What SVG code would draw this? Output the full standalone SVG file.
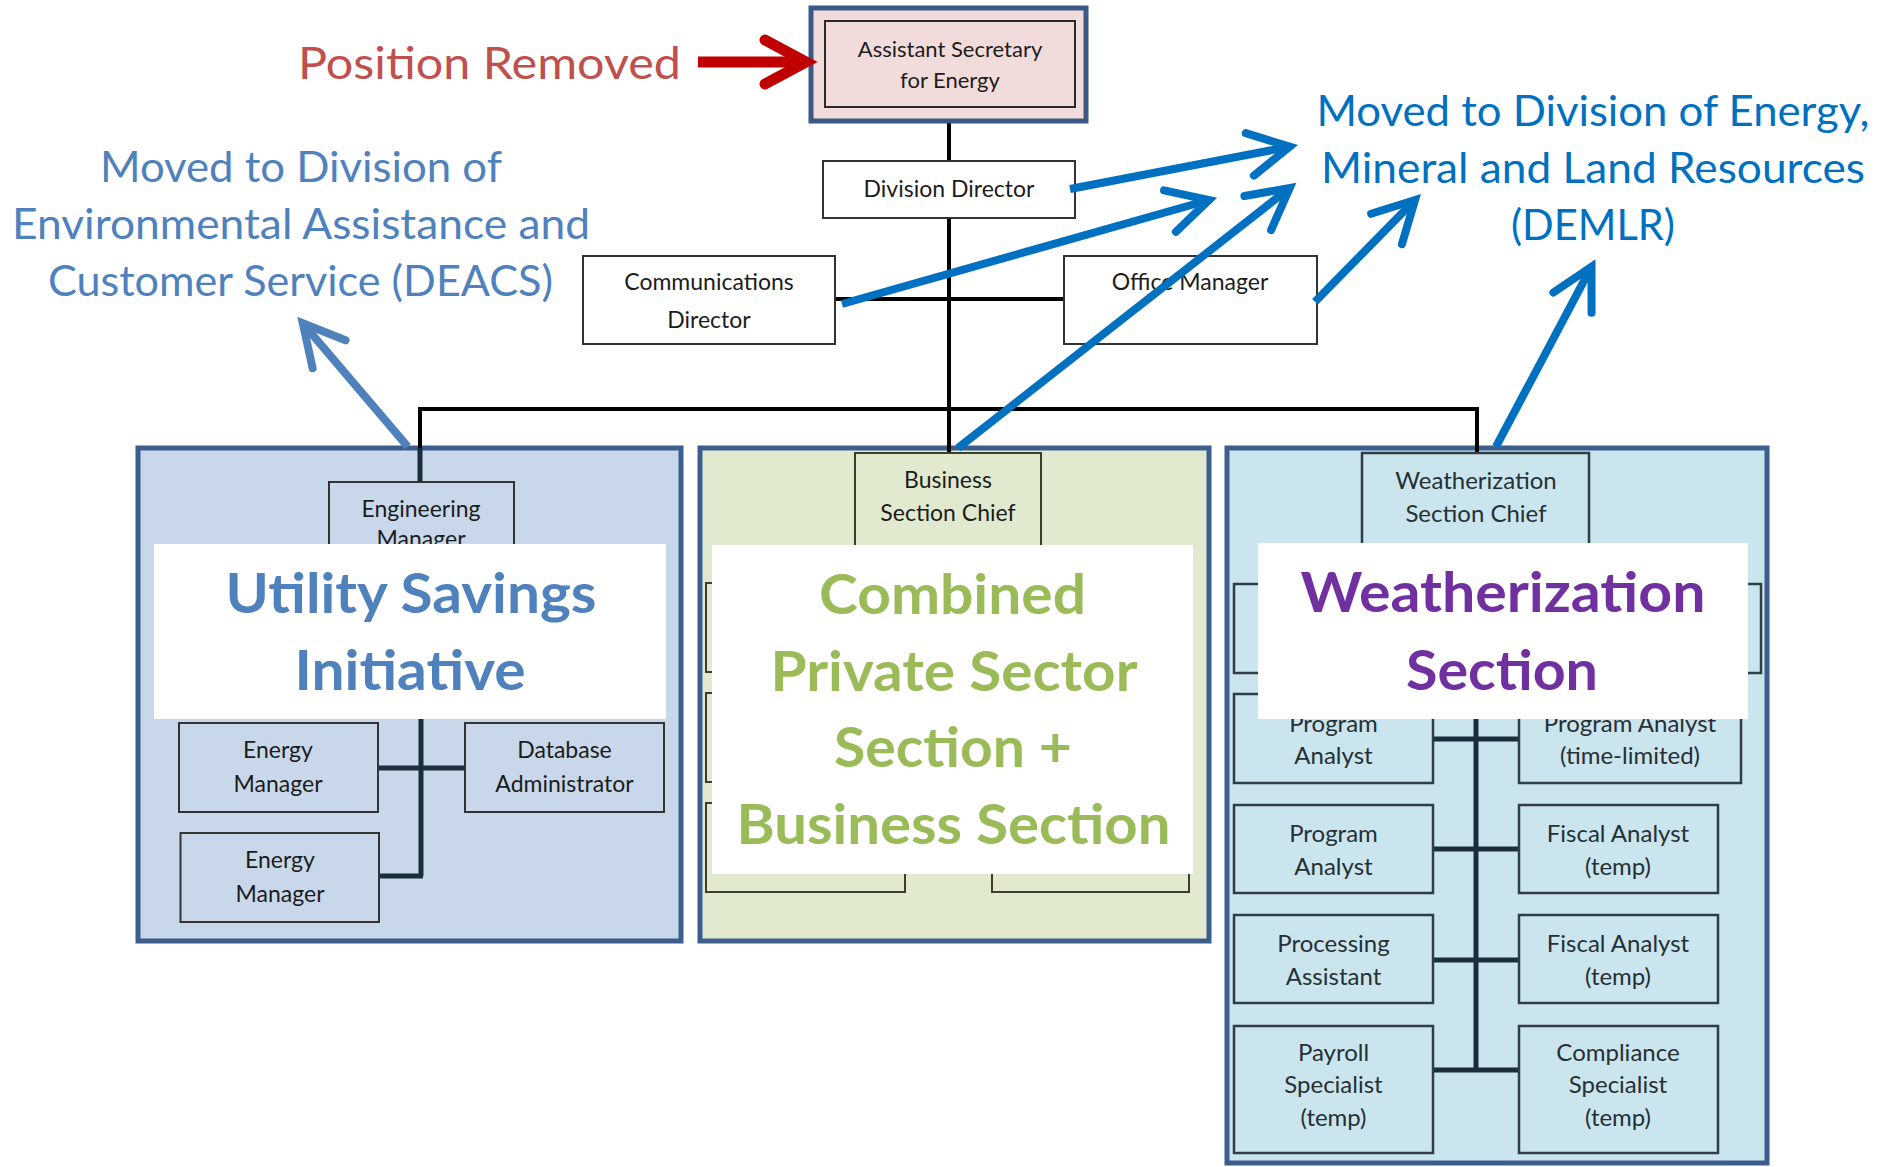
<svg xmlns="http://www.w3.org/2000/svg" width="1877" height="1167" viewBox="0 0 1877 1167">
<defs>
<style>
.t{font-family:Lato,'Open Sans',sans-serif;fill:#1c1c1c;text-anchor:middle}
.s23{font-size:23px}
.s24{font-size:24px;fill:#263034}
.box{fill:#fff;stroke:#333;stroke-width:2}
.bl{fill:#C8D8EA;stroke:#333;stroke-width:2}
.bg{fill:#E1EACF;stroke:#3a3f30;stroke-width:2}
.bt{fill:#CBE5EE;stroke:#2E3E44;stroke-width:2.5}
.panel{stroke:#3D5D8C;stroke-width:5}
.lab{fill:#fff}
.big{font-family:Lato,'Open Sans',sans-serif;font-weight:700;font-size:56px;text-anchor:middle}
.note{font-family:Lato,'Open Sans',sans-serif;font-size:42px;text-anchor:middle}
.blk{stroke:#000;stroke-width:4;fill:none}
.drk{stroke:#1B2D3B;stroke-width:5;fill:none}
.arB{stroke:#0070C0;stroke-width:8;fill:none;marker-end:url(#ahB)}
.arS{stroke:#4F81BD;stroke-width:8;fill:none;marker-end:url(#ahS)}
.arR{stroke:#C00000;stroke-width:11;fill:none;marker-end:url(#ahR)}
</style>
<marker id="ahB" markerUnits="userSpaceOnUse" viewBox="-60 -35 70 70" markerWidth="70" markerHeight="70" refX="0" refY="0" orient="auto" overflow="visible">
<path d="M-40.6,-21.6 L0,0 L-40.6,21.6" fill="none" stroke="#0070C0" stroke-width="8" stroke-linecap="round"/>
</marker>
<marker id="ahS" markerUnits="userSpaceOnUse" viewBox="-60 -35 70 70" markerWidth="70" markerHeight="70" refX="0" refY="0" orient="auto" overflow="visible">
<path d="M-40.6,-21.6 L0,0 L-40.6,21.6" fill="none" stroke="#4F81BD" stroke-width="8" stroke-linecap="round"/>
</marker>
<marker id="ahR" markerUnits="userSpaceOnUse" viewBox="-60 -35 70 70" markerWidth="70" markerHeight="70" refX="0" refY="0" orient="auto" overflow="visible">
<path d="M-41,-22 L0,0 L-41,22" fill="none" stroke="#C00000" stroke-width="11" stroke-linecap="round"/>
</marker>
</defs>
<rect width="1877" height="1167" fill="#fff"/>

<!-- panels -->
<g id="panel-utility"><rect class="panel" x="138" y="448" width="543" height="493" fill="#C8D8EA"/></g>
<g id="panel-combined"><rect class="panel" x="700" y="448" width="509" height="493" fill="#E1EACF"/></g>
<g id="panel-weatherization"><rect class="panel" x="1227" y="448" width="540" height="715" fill="#CBE5EE"/></g>

<!-- connectors -->
<g id="connectors">
<path class="blk" d="M949,122 V453 M835,299 H1064 M420,409 H1477 M420,407 V448 M1477,407 V453"/>
<path class="drk" d="M420,448 V482 M421,700 V876 M377,768 H465 M379,876 H423"/>
<path class="drk" d="M1476,700 V1070 M1433,739 H1519 M1433,849 H1519 M1433,960 H1519 M1433,1070 H1519"/>
</g>

<!-- top nodes -->
<g id="node-ase">
<rect x="811" y="8" width="275" height="113" fill="#F2DCDB" stroke="#3B5886" stroke-width="5"/>
<rect x="825" y="21" width="250" height="86" fill="#F2DCDB" stroke="#2a2a2a" stroke-width="2"/>
<text class="t" x="950" y="57" font-size="22">Assistant Secretary</text>
<text class="t" x="950" y="88" font-size="22">for Energy</text>
</g>
<g id="node-dd">
<rect class="box" x="823" y="161" width="252" height="57"/>
<text class="t s23" x="949" y="197">Division Director</text>
</g>
<g id="node-comm">
<rect class="box" x="583" y="256" width="252" height="88"/>
<text class="t s23" x="709" y="290">Communications</text>
<text class="t s23" x="709" y="328">Director</text>
</g>
<g id="node-office">
<rect class="box" x="1064" y="256" width="253" height="88"/>
<text class="t s23" x="1190" y="290">Office Manager</text>
</g>

<!-- utility panel nodes -->
<g id="node-eng">
<rect class="bl" x="329" y="482" width="185" height="90"/>
<text class="t s23" x="421" y="517">Engineering</text>
<text class="t s23" x="421" y="547">Manager</text>
</g>
<g id="node-em1">
<rect class="bl" x="179" y="723" width="199" height="89"/>
<text class="t s23" x="278" y="758">Energy</text>
<text class="t s23" x="278" y="792">Manager</text>
</g>
<g id="node-dba">
<rect class="bl" x="465" y="723" width="199" height="89"/>
<text class="t s23" x="564.5" y="758">Database</text>
<text class="t s23" x="564.5" y="792">Administrator</text>
</g>
<g id="node-em2">
<rect class="bl" x="180.5" y="833" width="198.5" height="89"/>
<text class="t s23" x="280" y="868">Energy</text>
<text class="t s23" x="280" y="902">Manager</text>
</g>

<!-- combined panel nodes -->
<g id="node-bsc">
<rect class="bg" x="855" y="453" width="186" height="100"/>
<text class="t s23" x="948" y="488">Business</text>
<text class="t s23" x="948" y="521">Section Chief</text>
</g>
<g id="node-c1"><rect class="bg" x="706" y="583" width="199" height="89"/></g>
<g id="node-c2"><rect class="bg" x="706" y="693" width="199" height="89"/></g>
<g id="node-c3"><rect class="bg" x="706" y="803" width="199" height="89"/></g>
<g id="node-c4"><rect class="bg" x="992" y="803" width="197" height="89"/></g>

<!-- weatherization panel nodes -->
<g id="node-wsc">
<rect class="bt" x="1362" y="453" width="227" height="100"/>
<text class="t s24" x="1476" y="489">Weatherization</text>
<text class="t s24" x="1476" y="522">Section Chief</text>
</g>
<g id="node-w1"><rect class="bt" x="1234" y="584" width="199" height="89"/></g>
<g id="node-w2"><rect class="bt" x="1519" y="584" width="242" height="89"/></g>
<g id="node-w3">
<rect class="bt" x="1234" y="694" width="199" height="89"/>
<text class="t s24" x="1333.5" y="732">Program</text>
<text class="t s24" x="1333.5" y="764">Analyst</text>
</g>
<g id="node-w4">
<rect class="bt" x="1519" y="694" width="222" height="89"/>
<text class="t s24" x="1630" y="732">Program Analyst</text>
<text class="t s24" x="1630" y="764">(time-limited)</text>
</g>
<g id="node-w5">
<rect class="bt" x="1234" y="805" width="199" height="88"/>
<text class="t s24" x="1333.5" y="842">Program</text>
<text class="t s24" x="1333.5" y="875">Analyst</text>
</g>
<g id="node-w6">
<rect class="bt" x="1519" y="805" width="199" height="88"/>
<text class="t s24" x="1618" y="842">Fiscal Analyst</text>
<text class="t s24" x="1618" y="875">(temp)</text>
</g>
<g id="node-w7">
<rect class="bt" x="1234" y="915" width="199" height="88"/>
<text class="t s24" x="1333.5" y="952">Processing</text>
<text class="t s24" x="1333.5" y="985">Assistant</text>
</g>
<g id="node-w8">
<rect class="bt" x="1519" y="915" width="199" height="88"/>
<text class="t s24" x="1618" y="952">Fiscal Analyst</text>
<text class="t s24" x="1618" y="985">(temp)</text>
</g>
<g id="node-w9">
<rect class="bt" x="1234" y="1026" width="199" height="127"/>
<text class="t s24" x="1333.5" y="1061">Payroll</text>
<text class="t s24" x="1333.5" y="1093">Specialist</text>
<text class="t s24" x="1333.5" y="1126">(temp)</text>
</g>
<g id="node-w10">
<rect class="bt" x="1519" y="1026" width="199" height="127"/>
<text class="t s24" x="1618" y="1061">Compliance</text>
<text class="t s24" x="1618" y="1093">Specialist</text>
<text class="t s24" x="1618" y="1126">(temp)</text>
</g>

<!-- section labels -->
<g id="label-utility">
<rect class="lab" x="154" y="544" width="512" height="175"/>
<text class="big" x="411" y="613" fill="#4F81BD" textLength="371" lengthAdjust="spacingAndGlyphs">Utility Savings</text>
<text class="big" x="410" y="690" fill="#4F81BD" textLength="231" lengthAdjust="spacingAndGlyphs">Initiative</text>
</g>
<g id="label-combined">
<rect class="lab" x="712" y="545" width="481" height="329"/>
<text class="big" x="952.5" y="614" fill="#9BBB59" textLength="267" lengthAdjust="spacingAndGlyphs">Combined</text>
<text class="big" x="954" y="691" fill="#9BBB59" textLength="367" lengthAdjust="spacingAndGlyphs">Private Sector</text>
<text class="big" x="953" y="767" fill="#9BBB59" textLength="238" lengthAdjust="spacingAndGlyphs">Section +</text>
<text class="big" x="953.5" y="844" fill="#9BBB59" textLength="434" lengthAdjust="spacingAndGlyphs">Business Section</text>
</g>
<g id="label-weatherization">
<rect class="lab" x="1258" y="543" width="490" height="176"/>
<text class="big" x="1503" y="612" fill="#7030A0" textLength="405" lengthAdjust="spacingAndGlyphs">Weatherization</text>
<text class="big" x="1502" y="690" fill="#7030A0" textLength="192" lengthAdjust="spacingAndGlyphs">Section</text>
</g>

<!-- annotations -->
<g id="note-removed">
<text x="298" y="79" font-family="Lato,'Open Sans',sans-serif" font-size="45" fill="#C0504D" textLength="383" lengthAdjust="spacingAndGlyphs">Position Removed</text>
</g>
<g id="note-deacs" fill="#4F81BD">
<text class="note" x="301" y="182" textLength="402" lengthAdjust="spacingAndGlyphs">Moved to Division of</text>
<text class="note" x="301" y="239" textLength="578" lengthAdjust="spacingAndGlyphs">Environmental Assistance and</text>
<text class="note" x="300.5" y="296" textLength="505" lengthAdjust="spacingAndGlyphs">Customer Service (DEACS)</text>
</g>
<g id="note-demlr" fill="#0070C0">
<text class="note" x="1593" y="126" textLength="553" lengthAdjust="spacingAndGlyphs">Moved to Division of Energy,</text>
<text class="note" x="1593" y="183" textLength="544" lengthAdjust="spacingAndGlyphs">Mineral and Land Resources</text>
<text class="note" x="1593" y="240" textLength="164" lengthAdjust="spacingAndGlyphs">(DEMLR)</text>
</g>

<!-- arrows -->
<g id="arrows">
<path class="arR" d="M698,62 L806,62"/>
<path class="arB" d="M1070,189 L1289.7,146.7"/>
<path class="arB" d="M842,304 L1209,200"/>
<path class="arB" d="M958,448 L1289.7,188"/>
<path class="arB" d="M1315,301.7 L1415,200"/>
<path class="arB" d="M1496,446.7 L1591.5,266.7"/>
<path class="arS" d="M407.7,446.7 L302.8,323.3"/>
</g>
</svg>
